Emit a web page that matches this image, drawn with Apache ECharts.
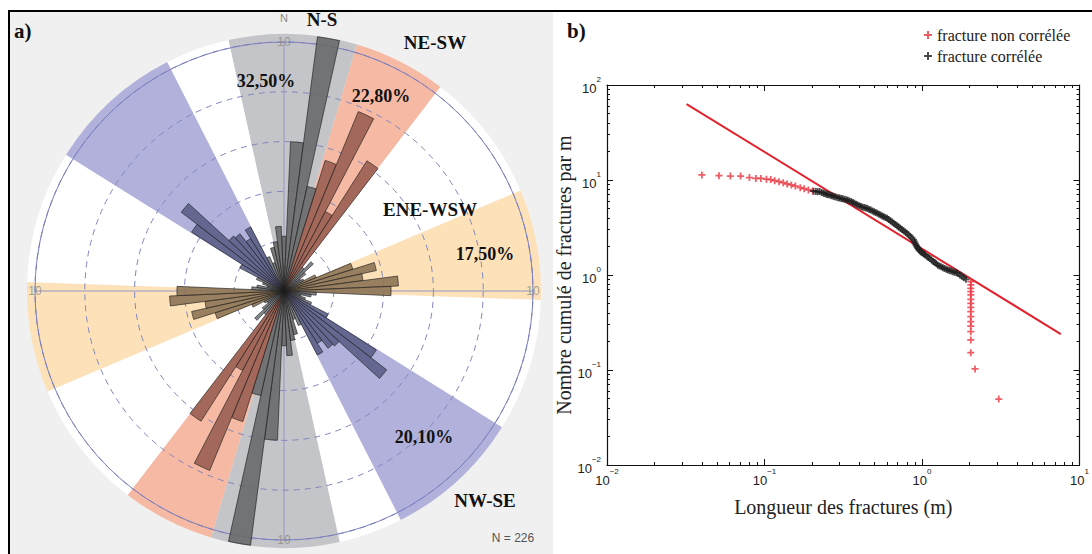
<!DOCTYPE html>
<html><head><meta charset="utf-8">
<script src="https://cdn.jsdelivr.net/npm/echarts@6/dist/echarts.min.js"></script>
<style>
html,body{margin:0;padding:0;background:#fff;width:1092px;height:554px;overflow:hidden;position:relative}
#pa{position:absolute;left:8px;top:10px;width:543px;height:560px;background:#f0f0f0;border-left:2px solid #000;border-top:2px solid #000;border-right:2px solid #000}
#pb{position:absolute;left:553px;top:10px;width:560px;height:560px;background:#fff;border-top:2px solid #000}
#c{position:absolute;left:0;top:0;width:1092px;height:554px}
</style>
</head><body><div id="pa"></div><div id="pb"></div><div id="c"></div>
<script>
// ---------- Rose diagram data (5° bins, bearing of bin centre) ----------
const binLabels = ['0','5','10','15','20','25','30','35','40','45','50','55','60','65','70','75','80','85','90','95','100','105','110','115','120','125','130','135','140','145','150','155','160','165','170','175',
  '180','185','190','195','200','205','210','215','220','225','230','235','240','245','250','255','260','265','270','275','280','285','290','295','300','305','310','315','320','325','330','335','340','345','350','355'];
const binLengths = [2.2,6.0,10.3,4.3,5.5,7.8,3.6,6.2,1.2,1.6,1.1,0.8,0.9,1.4,2.9,3.8,3.2,4.6,4.3,1.3,1.1,0.7,0.9,1.2,2.0,4.4,5.2,3.0,2.9,2.5,2.9,1.5,1.2,1.8,2.0,2.6,
  2.2,6.0,10.3,4.3,5.5,7.8,3.6,6.2,1.2,1.6,1.1,0.8,0.9,1.4,2.9,3.8,3.2,4.6,4.3,1.3,1.1,0.7,0.9,1.2,2.0,4.4,5.2,3.0,2.9,2.5,2.9,1.5,1.2,1.8,2.0,2.6];
const binFamily = ['NS','NS','NS','NS','NE','NE','NE','NE','OT','OT','OT','OT','OT','EN','EN','EN','EN','EN','EN','OT','OT','OT','OT','OT','NW','NW','NW','NW','NW','NW','NW','OT','OT','NS','NS','NS',
  'NS','NS','NS','NS','NE','NE','NE','NE','OT','OT','OT','OT','OT','EN','EN','EN','EN','EN','EN','OT','OT','OT','OT','OT','NW','NW','NW','NW','NW','NW','NW','OT','OT','NS','NS','NS'];
// background sectors, clockwise from bearing -12.5°
const sectorStart = -12.5;
const sectorNames = ['NS','NE','gap','EN','gap','NW','gap','NS','NE','gap','EN','gap','NW','gap'];
const sectorSpans = [29,21,29.5,25,30,31,14.5,29,21,29.5,25,30,31,14.5];
const ringLabelPoints = [[10,0],[10,90],[10,180],[10,270]];

// ---------- Cumulative length distribution ----------
const redLen = [0.040,0.0514,0.0607,0.0705,0.0802,0.0882,0.0948,0.1028,0.1096,0.116,0.1236,0.1315,0.1393,0.148,0.157,0.1687,0.1786,0.19,0.202,
  2.04,2.04,2.04,2.04,2.04,2.04,2.04,2.04,2.04,2.04,2.04,2.04,2.04,2.04,2.04,2.17,3.07];
const redCum = [11.3,11.1,11.0,11.0,10.6,10.4,10.4,10.2,10.1,9.84,9.6,9.37,9.08,8.86,8.64,8.3,8.1,7.85,7.66,
  0.85,0.785,0.724,0.667,0.616,0.555,0.504,0.457,0.411,0.364,0.323,0.29,0.253,0.207,0.152,0.1025,0.0495];
const blackLen = [0.205,0.212,0.218,0.224,0.230,0.236,0.240,0.246,0.250,0.256,0.262,0.268,0.274,0.280,0.287,0.294,0.300,0.307,0.314,0.322,
  0.330,0.338,0.346,0.355,0.364,0.372,0.381,0.390,0.400,0.410,0.420,0.430,0.441,0.451,0.462,0.473,0.485,0.496,0.508,0.520,
  0.533,0.546,0.559,0.572,0.586,0.601,0.615,0.630,0.646,0.662,0.678,0.695,0.711,0.728,0.746,0.764,0.783,0.802,0.822,0.842,
  0.862,0.883,0.894,0.905,0.916,0.927,0.938,0.950,0.960,0.971,0.990,1.008,1.027,1.045,1.070,1.095,1.120,1.150,1.178,1.205,
  1.232,1.260,1.292,1.325,1.358,1.390,1.425,1.460,1.495,1.530,1.570,1.610,1.650,1.690,1.740,1.790,1.845,1.900];
const blackCum = [7.62,7.58,7.50,7.55,7.38,7.30,7.22,7.12,7.05,6.98,6.90,6.82,6.74,6.66,6.60,6.52,6.46,6.40,6.33,6.26,
  6.20,6.12,6.02,5.93,5.80,5.70,5.57,5.46,5.36,5.25,5.18,5.12,5.06,5.00,4.90,4.82,4.72,4.63,4.55,4.46,
  4.37,4.28,4.19,4.10,4.03,3.95,3.83,3.72,3.61,3.50,3.40,3.30,3.20,3.10,3.01,2.92,2.83,2.75,2.65,2.55,
  2.45,2.34,2.25,2.15,2.06,1.99,1.93,1.88,1.83,1.79,1.74,1.70,1.66,1.63,1.58,1.53,1.49,1.44,1.39,1.35,
  1.31,1.27,1.24,1.22,1.19,1.17,1.15,1.13,1.115,1.10,1.085,1.07,1.055,1.04,1.00,0.97,0.935,0.90];
const fitLen = [0.032, 7.6];
const fitCum = [63, 0.239];
const xMajor = [0.01,0.1,1,10];
const xMinor = [0.02,0.03,0.04,0.05,0.06,0.07,0.08,0.09,0.2,0.3,0.4,0.5,0.6,0.7,0.8,0.9,2,3,4,5,6,7,8,9];
const yMajor = [0.01,0.1,1,10,100];
const yMinor = [0.02,0.03,0.04,0.05,0.06,0.07,0.08,0.09,0.2,0.3,0.4,0.5,0.6,0.7,0.8,0.9,2,3,4,5,6,7,8,9,20,30,40,50,60,70,80,90];

// ---------- styles ----------
const famColor = {NS:'#69696b', NE:'#9a5f52', EN:'#8d7455', NW:'#5c6088', OT:'#767a80'};
const secColor = {NS:'#c4c5c8', NE:'#f6b9a3', EN:'#fde2b9', NW:'#b1b1db', gap:'#ffffff'};
const CX = 284, CY = 291, R = 249;
const PLUS = 'path://M3,0H5V3H8V5H5V8H3V5H0V3H3Z';
const SERIF = 'Liberation Serif';
const SANS = 'Liberation Sans';

function powLabel(v){
  const e = Math.round(Math.log10(v));
  return '{b|10}{s|' + (e < 0 ? '\u2212' + (-e) : e) + '}';
}
const richLab = {
  b:{fontSize:13, fontFamily:SANS, color:'#222', lineHeight:20, verticalAlign:'bottom'},
  s:{fontSize:8, fontFamily:SANS, color:'#222', verticalAlign:'top'}
};
function xAx(pos, major, showLabel){
  return {type:'log', logBase:10, min:0.01, max:10, position:pos, gridIndex:0,
    axisLine:{show:major, onZero:false, lineStyle:{color:'#111', width:1.2}},
    axisTick:{show:true, inside:true, length: major?6:3, customValues: major?xMajor:xMinor, lineStyle:{color:'#111'}},
    axisLabel:{show:showLabel, customValues:xMajor, formatter:powLabel, rich:richLab, margin:2},
    splitLine:{show:false}, minorTick:{show:false},
    name: showLabel ? 'Longueur des fractures (m)' : '', nameLocation:'middle', nameGap:32,
    nameTextStyle:{fontFamily:SERIF, fontSize:20, color:'#222'}};
}
function yAx(pos, major, showLabel){
  return {type:'log', logBase:10, min:0.01, max:100, position:pos, gridIndex:0,
    axisLine:{show:major, onZero:false, lineStyle:{color:'#111', width:1.2}},
    axisTick:{show:true, inside:true, length: major?6:3, customValues: major?yMajor:yMinor, lineStyle:{color:'#111'}},
    axisLabel:{show:showLabel, customValues:yMajor, formatter:powLabel, rich:richLab, margin:6},
    splitLine:{show:false}, minorTick:{show:false},
    name: showLabel ? 'Nombre cumulé de fractures par m' : '', nameLocation:'middle', nameGap:30, nameRotate:90,
    nameTextStyle:{fontFamily:SERIF, fontSize:20, color:'#222'}};
}

const chart = echarts.init(document.getElementById('c'), null, {renderer:'svg', width:1092, height:554});
const txt = (t, x, y, font, fill, align) => ({type:'text', x:x, y:y, z:100,
  style:{text:t, font:font, fill:fill||'#111', textAlign:align||'center', textVerticalAlign:'middle'}});
const B19 = 'bold 19px "Liberation Serif"', B18 = 'bold 18px "Liberation Serif"';

chart.setOption({
  animation:false,
  textStyle:{fontFamily:SERIF},
  polar:[{center:[CX,CY], radius:[0,R]}, {center:[CX,CY], radius:[0,R]}],
  angleAxis:[
    {polarIndex:0, type:'category', data:binLabels, startAngle:92.5, clockwise:true, boundaryGap:true, z:5,
     axisLine:{show:true, lineStyle:{color:'#7b7fbf', width:1}}, axisTick:{show:false}, axisLabel:{show:false}, splitLine:{show:false}},
    {polarIndex:1, type:'value', min:0, max:360, interval:90, startAngle:90, clockwise:true, z:5,
     axisLine:{show:false}, axisTick:{show:false},
     axisLabel:{show:true, formatter:v => (v === 0 ? 'N' : ''), color:'#8a8a8a', fontSize:11, fontFamily:SANS, margin:19},
     splitLine:{show:true, lineStyle:{color:'#9397c4', width:1}}}
  ],
  radiusAxis:[
    {polarIndex:0, type:'value', min:0, max:10, interval:2, z:5,
     axisLine:{show:false}, axisTick:{show:false}, axisLabel:{show:false},
     splitLine:{show:true, lineStyle:{color:'#7f87bd', type:[6,5], width:1}}},
    {polarIndex:1, type:'value', min:0, max:10, show:false}
  ],
  grid:{left:607, top:85, width:480, height:380, show:false},
  xAxis:[xAx('bottom', true, true), xAx('bottom', false, false), xAx('top', true, false), xAx('top', false, false)],
  yAxis:[yAx('left', true, true), yAx('left', false, false), yAx('right', true, false), yAx('right', false, false)],
  legend:{data:['fracture non corrélée','fracture corrélée'], orient:'vertical', left:919, top:22,
    itemWidth:8, itemHeight:8, itemGap:5, selectedMode:false,
    textStyle:{fontFamily:SERIF, fontSize:16, color:'#222'}},
  series:[
    {type:'pie', z:1, silent:true, center:[CX,CY], radius:[0,257], startAngle:90 - sectorStart, clockwise:true,
     label:{show:false}, labelLine:{show:false}, emphasis:{disabled:true},
     data: sectorSpans.map((v,i) => ({value:v, name:sectorNames[i]+i, itemStyle:{color:secColor[sectorNames[i]], borderWidth:0}}))},
    {type:'bar', coordinateSystem:'polar', polarIndex:0, z:6, barCategoryGap:'0%', silent:true, clip:false,
     data: binLengths.map((v,i) => ({value:v, itemStyle:{color:famColor[binFamily[i]], opacity:0.9, borderColor:'#1d1d1d', borderWidth:0.7}}))},
    {type:'scatter', coordinateSystem:'polar', polarIndex:1, z:7, symbolSize:0, silent:true,
     data: ringLabelPoints,
     label:{show:true, position:'inside', formatter:'10', color:'#8a8a8a', fontSize:12, fontFamily:SANS}},
    {type:'line', name:'fit', xAxisIndex:0, yAxisIndex:0, z:3, symbol:'none', silent:true,
     data: fitLen.map((x,i) => [x, fitCum[i]]), lineStyle:{color:'#e1222d', width:2}},
    {type:'scatter', name:'fracture non corrélée', xAxisIndex:0, yAxisIndex:0, z:4, symbol:PLUS, symbolSize:7, silent:true,
     data: redLen.map((x,i) => [x, redCum[i]]), itemStyle:{color:'#e8343e'}},
    {type:'scatter', name:'fracture corrélée', xAxisIndex:0, yAxisIndex:0, z:5, symbol:PLUS, symbolSize:7, silent:true,
     data: blackLen.map((x,i) => [x, blackCum[i]]), itemStyle:{color:'#1e1e1e'}}
  ],
  graphic:[
    txt('a)', 14, 31, 'bold 21px "Liberation Serif"', '#111', 'left'),
    txt('N-S', 322, 19, B19),
    txt('32,50%', 266, 81, B18),
    txt('NE-SW', 435, 42, B19),
    txt('22,80%', 381, 96, B18),
    txt('ENE-WSW', 430, 209, B19),
    txt('17,50%', 485, 254, B18),
    txt('20,10%', 424, 437, B18),
    txt('NW-SE', 485, 500, B19),
    txt('N = 226', 513, 538, '12px "Liberation Sans"', '#555'),
    txt('b)', 567, 31, 'bold 21px "Liberation Serif"', '#111', 'left')
  ]
});
</script>
</body></html>
